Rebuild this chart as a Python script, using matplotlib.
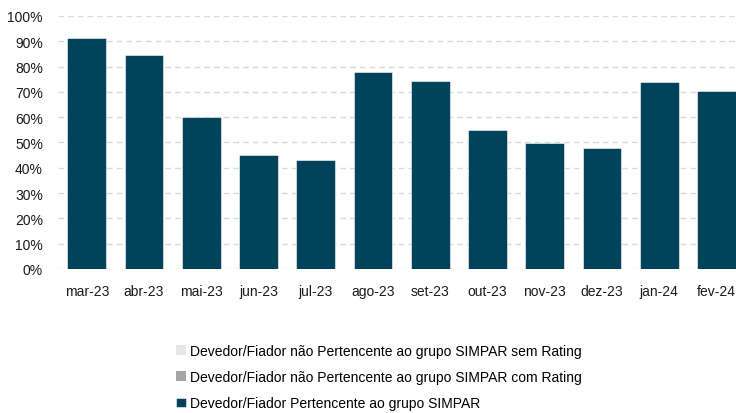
import numpy as np
import matplotlib
matplotlib.use("Agg")
import matplotlib.pyplot as plt
from matplotlib.ticker import PercentFormatter

plt.rcParams['font.family'] = ['Liberation Sans', 'DejaVu Sans']

# dados
meses = ['mar-23', 'abr-23', 'mai-23', 'jun-23', 'jul-23', 'ago-23',
         'set-23', 'out-23', 'nov-23', 'dez-23', 'jan-24', 'fev-24']
simpar = [91.3, 84.6, 60.0, 45.2, 43.2, 77.9, 74.3, 54.9, 49.8, 47.7, 73.9, 70.4]
com_rating = [0, 0, 0, 0, 0, 0, 0, 0, 0, 0, 0, 0]
sem_rating = [0, 0, 0, 0, 0, 0, 0, 0, 0, 0, 0, 0]

cor_simpar = '#00435b'
cor_com = '#a6a6a6'
cor_sem = '#e6e6e6'

fig = plt.figure(figsize=(7.36, 4.14), dpi=100)
ax = fig.add_axes([0.079, 0.348, 0.921, 0.611])

x = np.arange(len(meses))
largura = 0.68
b1 = ax.bar(x, simpar, largura, color=cor_simpar, edgecolor='white', linewidth=0.4, zorder=3,
            label='Devedor/Fiador Pertencente ao grupo SIMPAR')
base = np.array(simpar)
b2 = ax.bar(x, com_rating, largura, bottom=base, color=cor_com, zorder=3,
            label='Devedor/Fiador não Pertencente ao grupo SIMPAR com Rating')
base = base + np.array(com_rating)
b3 = ax.bar(x, sem_rating, largura, bottom=base, color=cor_sem, zorder=3,
            label='Devedor/Fiador não Pertencente ao grupo SIMPAR sem Rating')

ax.set_ylim(0, 100)
ax.set_xlim(-0.5, 11.34)
ax.set_yticks(np.arange(0, 101, 10))
ax.yaxis.set_major_formatter(PercentFormatter(decimals=0))
ax.set_xticks(x)
ax.set_xticklabels(meses)
ax.tick_params(axis='both', length=0, labelsize=10, colors='#1a1a1a')
ax.tick_params(axis='x', pad=11)
ax.tick_params(axis='y', pad=11)
ax.grid(axis='y', color='#d9d9d9', linestyle=(0, (4, 3)), linewidth=1.0, zorder=0)
for s in ax.spines.values():
    s.set_visible(False)

fig.legend([b3, b2, b1],
           [b3.get_label(), b2.get_label(), b1.get_label()],
           loc='upper left', bbox_to_anchor=(0.239, 0.167), frameon=False,
           fontsize=10, handlelength=0.7, handleheight=0.7, handletextpad=0.3,
           labelspacing=0.88, borderaxespad=0, borderpad=0)

fig.savefig('out.png', dpi=100)
